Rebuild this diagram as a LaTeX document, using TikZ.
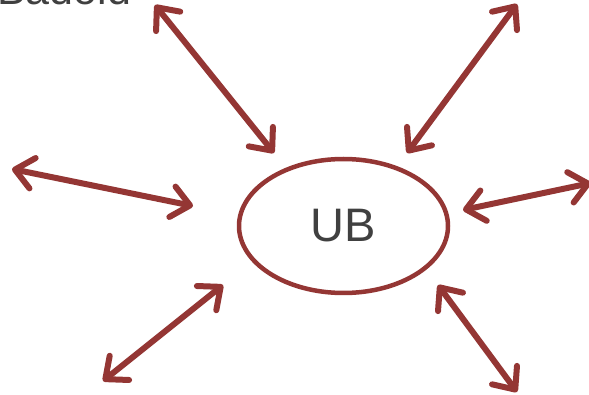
\documentclass[tikz,border=0pt]{standalone}
\usepackage{fontspec}
\setmainfont{Liberation Sans}
\usetikzlibrary{arrows.meta,shapes.geometric}
\definecolor{arrred}{HTML}{943634}
\definecolor{txtgray}{HTML}{404040}
\begin{document}
\begin{tikzpicture}[x=1pt,y=-1pt,
  barb/.tip={Straight Barb[length=18pt,width=31pt,round]},
  link/.style={draw=arrred, line width=6pt, line cap=round, barb-barb},
  hub/.style={ellipse, draw=arrred, line width=4.5pt, minimum width=209pt, minimum height=134pt, inner sep=0pt, font=\fontsize{47}{50}\selectfont, text=txtgray},
  lbl/.style={anchor=base west, inner sep=0pt, font=\fontsize{43}{46}\selectfont, text=txtgray},
]
\useasboundingbox (0,0) rectangle (589,395);
\node[hub] (ub) at (343.5,226) {UB};
\node[lbl] (top) at (-3,5) {Badoid};
\coordinate (tla) at (155,5);   \coordinate (tlb) at (274,153);
\coordinate (tra) at (517,4);   \coordinate (trb) at (407,153);
\coordinate (la)  at (12,169);  \coordinate (lb)  at (193,206);
\coordinate (ra)  at (463,210); \coordinate (rb)  at (591,183);
\coordinate (bla) at (223,285); \coordinate (blb) at (103,381);
\coordinate (bra) at (438,285); \coordinate (brb) at (517,392);
\draw[link] (tla) -- (tlb);
\draw[link] (tra) -- (trb);
\draw[link] (la) -- (lb);
\draw[link] (ra) -- (rb);
\draw[link] (bla) -- (blb);
\draw[link] (bra) -- (brb);
\end{tikzpicture}
\end{document}
